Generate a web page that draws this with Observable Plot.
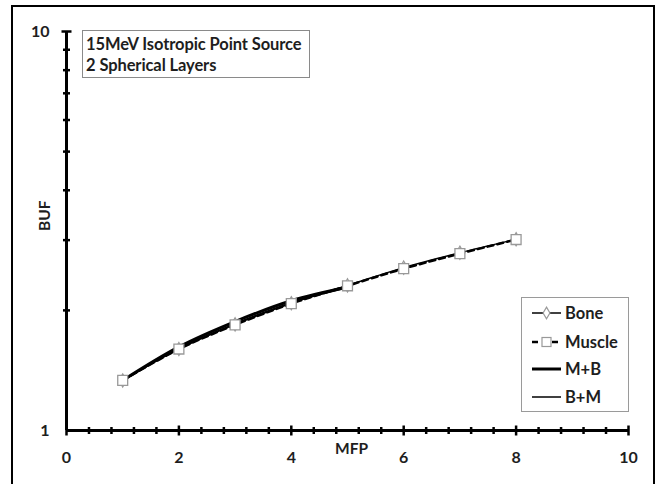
<!DOCTYPE html>
<html>
<head>
<meta charset="utf-8">
<script src="https://cdn.jsdelivr.net/npm/d3@7"></script>
<script src="https://cdn.jsdelivr.net/npm/@observablehq/plot@0.6"></script>
<style>
  html, body { margin: 0; padding: 0; background: #fff; }
  body { width: 665px; height: 484px; position: relative; overflow: hidden; font-family: Lato, "Open Sans", sans-serif; }
  #chart { position: absolute; left: 0; top: 0; }
  #border { position: absolute; left: 11px; top: 5px; width: 644px; height: 520px; border: 2px solid #000; box-sizing: border-box; pointer-events: none; }
  #title { position: absolute; left: 82px; top: 30px; width: 228px; height: 48px; border: 1px solid #8a8a8a; box-sizing: border-box; background: #fff; padding: 3px 0 0 3px; font-weight: 700; font-size: 16.5px; line-height: 21px; color: #1e1e1e; white-space: nowrap; letter-spacing: -0.1px; }
  #legend { position: absolute; left: 521px; top: 297px; }
</style>
</head>
<body>
<div id="chart"></div>
<div id="title">15MeV Isotropic Point Source<br>2 Spherical Layers</div>
<svg id="legend" width="108" height="115"></svg>
<div id="border"></div>
<script>
// ---- data ----
const mfp = [1, 2, 3, 4, 5, 6, 7, 8];
const bone = [1.335, 1.600, 1.845, 2.085, 2.310, 2.560, 2.790, 3.015];
const muscle = [1.335, 1.600, 1.840, 2.080, 2.305, 2.545, 2.775, 3.010];
const mfpMB = [1, 2, 3, 4, 5];
const mPlusB = [1.335, 1.620, 1.875, 2.115, 2.290];
const mfpBM = [1, 2, 3, 4, 5];
const bPlusM = [1.335, 1.605, 1.852, 2.092, 2.280];
const xTickLabels = [0, 2, 4, 6, 8, 10];
const xMinorTicks = d3.range(0, 10.001, 0.4).map(v => +v.toFixed(1)).filter(v => xTickLabels.indexOf(v) < 0);
const yTickLabels = [1, 10];
const yMinorTicks = [2, 3, 4, 5, 6, 7, 8, 9];
const seriesNames = ["Bone", "Muscle", "M+B", "B+M"];

const toRows = (xs, ys) => xs.map((x, i) => ({x, y: ys[i]}));
const boneRows = toRows(mfp, bone);
const muscleRows = toRows(mfp, muscle);
const mbRows = toRows(mfpMB, mPlusB);
const bmRows = toRows(mfpBM, bPlusM);

// custom tick symbols (r = half length)
const vSym = {draw(ctx, size) { const l = Math.sqrt(size / Math.PI); ctx.moveTo(0, -l); ctx.lineTo(0, l); }};
const hSym = {draw(ctx, size) { const l = Math.sqrt(size / Math.PI); ctx.moveTo(-l, 0); ctx.lineTo(l, 0); }};

const font = "Lato, 'Open Sans', sans-serif";
const chart = Plot.plot({
  width: 665,
  height: 484,
  marginLeft: 66,
  marginRight: 37,
  marginTop: 31,
  marginBottom: 54,
  style: {fontFamily: font, background: "transparent", color: "#1e1e1e"},
  x: {domain: [0, 10]},
  y: {type: "log", domain: [1, 10]},
  marks: [
    Plot.axisX({ticks: xTickLabels, tickSize: 0, tickPadding: 21, fontSize: 16, fontWeight: 700, label: null}),
    Plot.axisY({ticks: yTickLabels, tickFormat: d => String(d), tickSize: 0, tickPadding: 17, fontSize: 16, fontWeight: 700, label: null}),
    Plot.text(["MFP"], {frameAnchor: "bottom", text: d => d, dx: 4, dy: 23, fontSize: 15.5, fontWeight: 700, fill: "#1e1e1e"}),
    Plot.text(["BUF"], {frameAnchor: "left", text: d => d, rotate: -90, dx: -21, dy: 0, fontSize: 15.5, fontWeight: 700, fill: "#1e1e1e"}),
    // axis lines
    Plot.ruleY([1], {stroke: "#000", strokeWidth: 3}),
    Plot.ruleX([0], {stroke: "#000", strokeWidth: 3}),
    // ticks
    Plot.dot(xMinorTicks, {x: d => d, y: () => 1, symbol: vSym, r: 3.5, stroke: "#000", fill: "none", strokeWidth: 2.5}),
    Plot.dot(xTickLabels, {x: d => d, y: () => 1, symbol: vSym, r: 5, stroke: "#000", fill: "none", strokeWidth: 2.5}),
    Plot.dot(yMinorTicks, {x: () => 0, y: d => d, symbol: hSym, r: 3.5, stroke: "#000", fill: "none", strokeWidth: 2.5}),
    Plot.dot([10], {x: () => 0, y: d => d, symbol: hSym, r: 5, stroke: "#000", fill: "none", strokeWidth: 2.5}),
    // series
    Plot.line(boneRows, {x: "x", y: "y", curve: "catmull-rom", stroke: "#000", strokeWidth: 1.5}),
    Plot.line(muscleRows, {x: "x", y: "y", curve: "catmull-rom", stroke: "#000", strokeWidth: 2.5, strokeDasharray: "6,4"}),
    Plot.line(mbRows, {x: "x", y: "y", curve: "catmull-rom", stroke: "#000", strokeWidth: 3}),
    Plot.line(bmRows, {x: "x", y: "y", curve: "catmull-rom", stroke: "#000", strokeWidth: 1.5}),
    Plot.dot(boneRows, {x: "x", y: "y", symbol: "diamond", r: 4, fill: "#fff", stroke: "#999", strokeWidth: 1.2}),
    Plot.dot(muscleRows, {x: "x", y: "y", symbol: "square", r: 5.6, fill: "#fff", stroke: "#999", strokeWidth: 1.3})
  ]
});
document.getElementById("chart").appendChild(chart);

// legend
const lg = d3.select("#legend");
lg.append("rect").attr("x", 0.5).attr("y", 0.5).attr("width", 107).attr("height", 114).attr("fill", "#fff").attr("stroke", "#9a9a9a");
const rowsY = [16, 45, 72, 100];
seriesNames.forEach((name, i) => {
  const g = lg.append("g").attr("transform", `translate(0,${rowsY[i]})`);
  const x0 = 11, x1 = 40, xm = (x0 + x1) / 2;
  if (i === 0) {
    g.append("line").attr("x1", x0).attr("x2", x1).attr("stroke", "#000").attr("stroke-width", 1.5);
    g.append("path").attr("d", d3.symbol(d3.symbolDiamond, 40)()).attr("transform", `translate(${xm},0)`).attr("fill", "#fff").attr("stroke", "#999").attr("stroke-width", 1.2);
  } else if (i === 1) {
    g.append("line").attr("x1", x0).attr("x2", x1).attr("stroke", "#000").attr("stroke-width", 2.5).attr("stroke-dasharray", "6,4");
    g.append("rect").attr("x", xm - 4.5).attr("y", -4.5).attr("width", 9).attr("height", 9).attr("fill", "#fff").attr("stroke", "#999").attr("stroke-width", 1.2);
  } else {
    g.append("line").attr("x1", x0).attr("x2", x1).attr("stroke", "#000").attr("stroke-width", i === 2 ? 3 : 1.5);
  }
  g.append("text").attr("x", 44).attr("y", 0).attr("dy", "0.35em").attr("font-family", font).attr("font-weight", 700).attr("font-size", 16.5).attr("fill", "#1e1e1e").text(name);
});
</script>
</body>
</html>
